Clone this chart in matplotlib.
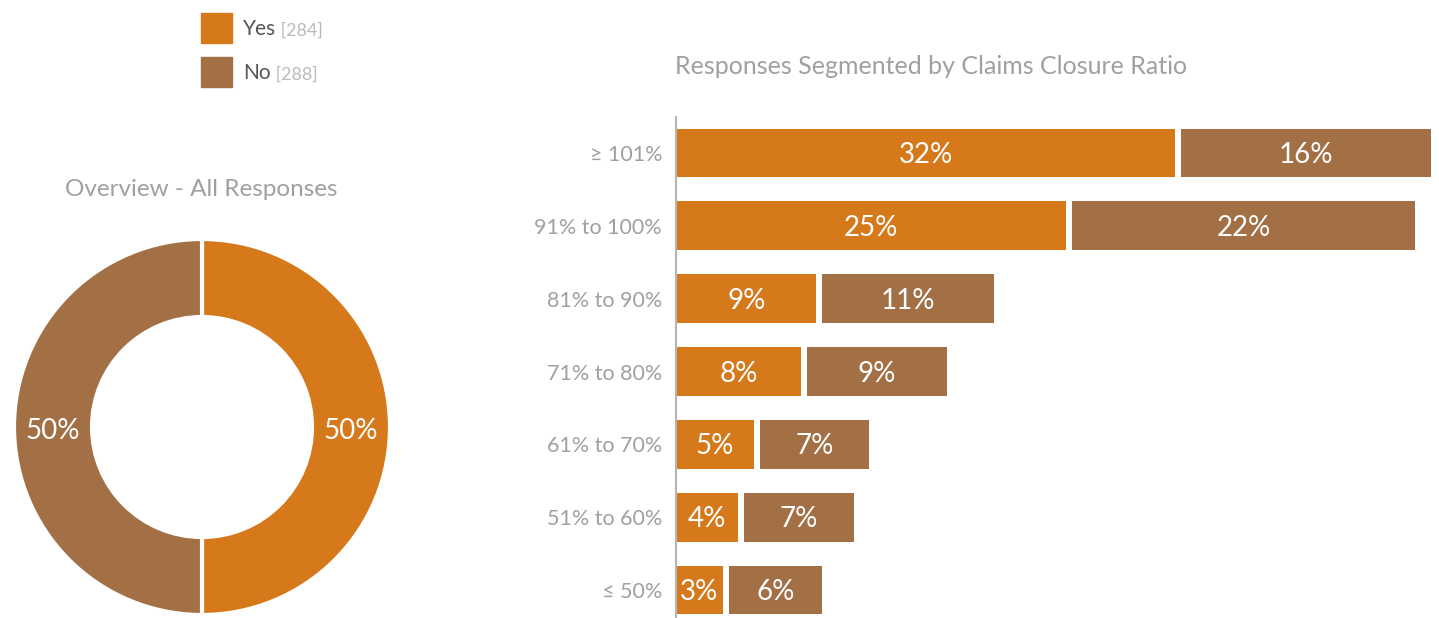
import matplotlib
matplotlib.use("Agg")
import matplotlib.pyplot as plt
from matplotlib.patches import Rectangle
import numpy as np

plt.rcParams['font.family'] = ['Lato', 'DejaVu Sans']

# ---- data ----
series = ["Yes", "No"]
counts = [284, 288]
overall_pct = [50, 50]
categories = ["≥ 101%", "91% to 100%", "81% to 90%", "71% to 80%",
              "61% to 70%", "51% to 60%", "≤ 50%"]
yes_pct = [32, 25, 9, 8, 5, 4, 3]
no_pct = [16, 22, 11, 9, 7, 7, 6]

ORANGE = "#D5791B"
BROWN = "#A37045"
GRAY = "#A0A0A0"
colors = [ORANGE, BROWN]

W, H = 1439, 618
fig = plt.figure(figsize=(W / 100, H / 100), dpi=100)
fig.patch.set_facecolor("white")

def fr(x0, y0, x1, y1):
    return [x0 / W, 1 - y1 / H, (x1 - x0) / W, (y1 - y0) / H]

# ---- donut ----
axd = fig.add_axes(fr(12, 237, 392, 617))
wedges, _ = axd.pie(overall_pct, colors=colors, startangle=90, counterclock=False,
                    radius=188 / 190,
                    wedgeprops=dict(width=78 / 190, edgecolor="white", linewidth=3))
axd.set_xlim(-1, 1)
axd.set_ylim(-1, 1)
axd.set_aspect("equal")
axd.axis("off")
total = sum(overall_pct)
start = 90
rmid = (188 + 110) / 2 / 190
for v in overall_pct:
    ang = start - 360 * v / total / 2
    start -= 360 * v / total
    axd.annotate(f"{v}%", xy=(rmid * np.cos(np.radians(ang)), rmid * np.sin(np.radians(ang))),
                 xytext=(0, -4), textcoords="offset pixels",
                 ha="center", va="center", color="white", fontsize=20)
fig.text(201 / W, 1 - 189 / H, "Overview - All Responses", ha="center", va="center",
         color=GRAY, fontsize=17.5)

# ---- legend ----
for i, (s, c) in enumerate(zip(series, counts)):
    y0 = 13 + i * 44
    fig.patches.append(Rectangle((201 / W, 1 - (y0 + 30) / H), 31 / W, 30 / H,
                                 transform=fig.transFigure, color=colors[i]))
    t = fig.text(243 / W, 1 - (y0 + 16) / H, s, ha="left", va="center",
                 color="#555555", fontsize=15)
    axd.annotate(" [%d]" % c, xy=(1, 0), xycoords=t, xytext=(0, 0),
                 textcoords="offset points", ha="left", va="bottom",
                 color="#BBBBBB", fontsize=13, annotation_clip=False)

# ---- bars ----
axb = fig.add_axes(fr(676, 117, 1439, 618))
ypos = np.arange(len(categories))
gap = 6 / 15.6
axb.barh(ypos, yes_pct, height=0.67, color=ORANGE)
axb.barh(ypos, no_pct, left=np.array(yes_pct) + gap, height=0.67, color=BROWN)
for y, a, b in zip(ypos, yes_pct, no_pct):
    for xc, v in ((a / 2, a), (a + gap + b / 2, b)):
        axb.annotate(f"{v}%", xy=(xc, y), xytext=(0, -2), textcoords="offset pixels",
                     ha="center", va="center", color="white", fontsize=20)
axb.set_xlim(0, 763 / 15.6)
axb.set_ylim(6 + 28 / 72.83, -36 / 72.83)
axb.set_yticks(ypos)
axb.set_yticklabels(categories, color=GRAY, fontsize=15.5)
axb.tick_params(axis="y", length=0, pad=10)
axb.set_xticks([])
for sp in ["top", "right", "bottom"]:
    axb.spines[sp].set_visible(False)
axb.spines["left"].set_color("#B5B5B5")
axb.spines["left"].set_linewidth(1.5)
fig.text(675 / W, 1 - 66 / H, "Responses Segmented by Claims Closure Ratio",
         ha="left", va="center", color=GRAY, fontsize=18)

fig.savefig("out.png", dpi=100, facecolor="white")
